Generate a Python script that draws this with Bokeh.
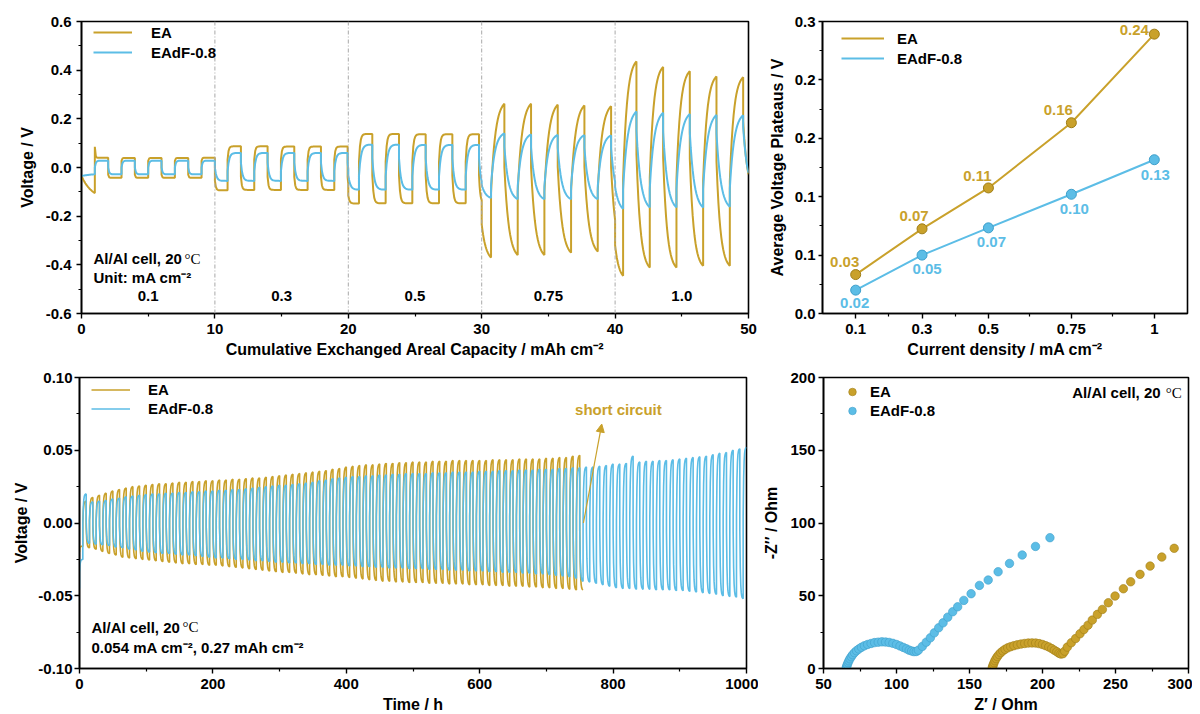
import numpy as np
from bokeh.plotting import figure
from bokeh.models import (FixedTicker, NumeralTickFormatter, CustomJSTickFormatter, Legend, LegendItem,
                          Label, Span, Arrow, NormalHead, ColumnDataSource, Range1d, GlobalInlineStyleSheet)
from bokeh.layouts import column, row
from bokeh.embed import file_html
from bokeh.resources import INLINE
from bokeh.core.properties import value

EA_COLOR = "#C9A12B"
EADF_COLOR = "#5CBDE6"
EA_EDGE = "#A07E16"
EADF_EDGE = "#3E9FCB"
FONT = "Liberation Sans"
SERIF = "Liberation Serif"

# ---------------- (a) rate capability: per half-cycle polarization (V) ----------------
rate_labels = ["0.1", "0.3", "0.5", "0.75", "1.0"]
rate_seg_start = [0, 10, 20, 30, 40]
rate_first_reversal = [1.0, 10.95, 20.8, 30.7, 40.6]
rate_cap_end = 50.0

ea_rate_start = -0.035
ea_rate_first_spike = 0.085
ea_rate_pos = [0.040, 0.039, 0.039, 0.039, 0.040,
               0.087, 0.087, 0.086, 0.086, 0.086,
               0.138, 0.138, 0.137, 0.137, 0.137,
               0.262, 0.262, 0.258, 0.255, 0.252,
               0.436, 0.413, 0.396, 0.374, 0.371]
ea_rate_neg = [-0.105, -0.042, -0.042, -0.042, -0.042,
               -0.094, -0.092, -0.092, -0.092, -0.092,
               -0.148, -0.147, -0.147, -0.147, -0.147,
               -0.370, -0.360, -0.360, -0.350, -0.345,
               -0.445, -0.411, -0.411, -0.404, -0.404]
ea_rate_end = -0.028

eadf_rate_start = -0.035
eadf_rate_pos = [0.028, 0.028, 0.028, 0.028, 0.028,
                 0.060, 0.060, 0.060, 0.060, 0.060,
                 0.094, 0.094, 0.093, 0.093, 0.093,
                 0.140, 0.136, 0.134, 0.133, 0.132,
                 0.230, 0.225, 0.220, 0.216, 0.215]
eadf_rate_neg = [-0.028, -0.028, -0.028, -0.028, -0.028,
                 -0.055, -0.055, -0.055, -0.055, -0.055,
                 -0.091, -0.091, -0.091, -0.091, -0.091,
                 -0.125, -0.130, -0.130, -0.130, -0.130,
                 -0.170, -0.164, -0.164, -0.164, -0.161]
eadf_rate_end = -0.022

# ---------------- (b) average voltage plateaus ----------------
rate_density = [0.1, 0.3, 0.5, 0.75, 1.0]
ea_plateau = [0.040, 0.087, 0.129, 0.196, 0.287]
eadf_plateau = [0.024, 0.060, 0.088, 0.1225, 0.158]
ea_plateau_text = ["0.03", "0.07", "0.11", "0.16", "0.24"]
eadf_plateau_text = ["0.02", "0.05", "0.07", "0.10", "0.13"]

# ---------------- (c) long-term cycling: per-cycle peak voltages (mV) ----------------
half_cycle_h = 5.0
ea_cyc_start_mV = -20
ea_cyc_up_mV = [15, 17.5, 19, 20.5, 22, 23, 24, 25, 25.5, 26,
                26.5, 27, 27, 27.5, 28, 28, 28.5, 28.5, 29, 29,
                29.5, 29.5, 30, 30, 30.5, 31, 31, 31.5, 32, 32.5,
                33, 33.5, 34, 34.5, 35, 35.5, 36, 37, 37.5, 38.5,
                39, 39.5, 40, 40, 40.5, 41, 41, 41.5, 41.5, 42,
                42, 42, 42.5, 42.5, 42.5, 43, 43, 43, 43, 43,
                43, 43.5, 43.5, 43.5, 43.5, 44, 44, 44, 44, 44.5,
                44.5, 45, 45, 46, 46.5]
ea_cyc_low_mV = [-16, -17, -18, -19.5, -21, -22, -23.5, -24, -24.5, -25,
                 -25.5, -26, -26.5, -27, -27.5, -28, -28, -28.5, -28.5, -29,
                 -29, -29.5, -30, -30.5, -31, -31.5, -32, -32.5, -33, -33.5,
                 -34, -34, -34.5, -35, -35.5, -35.5, -36, -36.5, -37, -37,
                 -37.5, -38, -38.5, -39, -39.5, -40, -40, -40.5, -40.5, -41,
                 -41, -41, -41.5, -41.5, -41.5, -42, -42, -42, -42.5, -42.5,
                 -42.5, -43, -43, -43, -43.5, -43.5, -43.5, -44, -44, -44.5,
                 -44.5, -45, -45, -45.5, -46, -46]
eadf_cyc_start_mV = -45
eadf_cyc_up_mV = [20, 14.5, 15, 15.5, 16.5, 17, 18, 18.5, 19, 19.5,
                  20, 20, 20.5, 20.5, 21, 21, 21.5, 21.5, 22, 22,
                  22.5, 22.5, 23, 23, 23.5, 24, 24.5, 25, 25.5, 26,
                  26, 26.5, 27, 27.5, 28, 29, 29.5, 30.5, 31, 31.5,
                  32, 32, 32.5, 32.5, 33, 33, 33.5, 33.5, 34, 34,
                  34, 34, 34.5, 34.5, 34.5, 35, 35, 35, 35, 35.5,
                  35.5, 35.5, 36, 36, 36, 36.5, 36.5, 36.5, 37, 37,
                  37, 37.5, 37.5, 38, 38, 38.5, 38.5, 39, 39.5, 40.5,
                  40.5, 41, 46, 42, 42.5, 42.5, 43, 43, 43.5, 44,
                  44.5, 45, 45.5, 46, 47, 48, 48.5, 50, 51, 52]
eadf_cyc_low_mV = [-25, -14, -14.5, -15, -15.5, -16.5, -17, -18, -18.5, -19.5,
                   -20, -20.5, -21, -21, -21.5, -22, -22, -22.5, -23, -23.5,
                   -24, -24, -24.5, -25, -25, -25.5, -26, -26, -26.5, -27,
                   -27, -27.5, -27.5, -28, -28, -28.5, -28.5, -29, -29, -29,
                   -29.5, -29.5, -30, -30, -30.5, -30.5, -31, -31, -31, -31.5,
                   -31.5, -31.5, -32, -32, -32, -32.5, -32.5, -32.5, -33, -33,
                   -33, -33.5, -33.5, -34, -34, -34, -34.5, -34.5, -35, -35,
                   -35.5, -36, -36.5, -37, -38, -40, -40.5, -41.5, -42.5, -43.5,
                   -44.5, -45, -45, -45.5, -45.5, -45.5, -46, -46, -46, -46.5,
                   -46.5, -47, -47.5, -48, -48.5, -49, -50, -50.5, -51, -52]

# ---------------- (d) EIS Nyquist (Ohm) ----------------
ea_zre = [165.6, 165.9, 166.3, 166.8, 167.4, 168.2, 169.1, 170.2, 171.4, 172.8, 174.4, 176.2,
          178.2, 180.4, 182.8, 185.3, 187.8, 190.3, 192.8, 195.3, 197.7, 200.0, 202.2, 204.3,
          206.3, 208.1, 209.8, 211.3, 212.6, 214.0, 215.2, 217.0, 219.7, 222.7, 225.7, 228.4,
          231.2, 234.1, 237.6, 241.0, 245.1, 249.7, 255.4, 260.4, 266.8, 273.7, 281.7, 290.2]
ea_zim = [0.5, 1.5, 2.7, 4.0, 5.4, 6.8, 8.2, 9.6, 10.9, 12.1, 13.2, 14.2,
          15.0, 15.7, 16.3, 16.8, 17.2, 17.5, 17.6, 17.5, 17.1, 16.5, 15.7, 14.8,
          13.7, 12.6, 11.5, 10.5, 9.9, 10.2, 11.9, 14.7, 17.7, 20.6, 23.9, 26.8,
          29.8, 33.3, 37.2, 40.6, 45.2, 49.8, 54.8, 59.6, 64.7, 70.4, 76.6, 82.6]
eadf_zre = [65.6, 65.9, 66.3, 66.8, 67.4, 68.1, 69.0, 70.0, 71.2, 72.6, 74.2, 76.0,
            78.0, 80.2, 82.6, 85.0, 87.5, 90.0, 92.5, 95.0, 97.5, 100.0, 102.4, 104.7,
            106.8, 108.7, 110.4, 112.0, 113.6, 115.0, 117.7, 120.4, 123.2, 125.9, 128.9, 131.9,
            135.1, 138.5, 141.9, 146.1, 151.1, 156.8, 162.8, 169.6, 177.4, 186.1, 195.2, 205.1]
eadf_zim = [0.5, 1.5, 2.7, 4.0, 5.3, 6.7, 8.1, 9.5, 10.9, 12.2, 13.4, 14.6,
            15.6, 16.5, 17.2, 17.8, 18.1, 18.3, 18.2, 17.9, 17.3, 16.5, 15.5, 14.5,
            13.5, 12.6, 12.0, 11.6, 11.7, 12.6, 15.2, 18.1, 21.1, 24.5, 28.0, 31.4,
            35.3, 39.0, 42.4, 46.8, 51.4, 57.1, 60.8, 66.5, 72.2, 78.0, 83.9, 89.9]


# ---------------- waveform drawing helpers ----------------
def half(xs, ys, t0, t1, v0, target, jump, tau, T=None, n=14, vj=None):
    """One polarity half: step at reversal, then relaxation toward the read peak value."""
    if T is None:
        T = t1 - t0
    if vj is None:
        vj = v0 + jump * (target - v0)
    xs.append(t0)
    ys.append(vj)
    norm = 1.0 - np.exp(-T / tau)
    for i in range(1, n + 1):
        t = t0 + (t1 - t0) * i / n
        f = min(1.0, (1.0 - np.exp(-(t - t0) / tau)) / norm)
        xs.append(t)
        ys.append(vj + (target - vj) * f)
    return ys[-1]


def build_rate(v_start, pos, neg, v_end, shape, spike=None):
    halves = []
    t_prev = 0.0
    for k in range(5):
        r0 = rate_first_reversal[k]
        halves.append((t_prev, r0, neg[5 * k], k))
        for j in range(5):
            halves.append((r0 + 2 * j, r0 + 2 * j + 1, pos[5 * k + j], k))
            if j < 4:
                halves.append((r0 + 2 * j + 1, r0 + 2 * j + 2, neg[5 * k + j + 1], k))
        t_prev = r0 + 9
    halves.append((t_prev, rate_cap_end, v_end, 4))
    xs, ys = [0.0], [v_start]
    v = v_start
    for idx, (t0, t1, target, k) in enumerate(halves):
        s = rate_seg_start[k]
        if idx == 0:
            v = half(xs, ys, t0, t1, v, target, 0.0, 0.8)
            continue
        if t0 < s < t1:
            jmp, tau = shape[k - 1]
            v = half(xs, ys, t0, s, v, neg[5 * (k - 1) + 4], jmp, tau, T=1.0, n=5)
            t0 = s
        jmp, tau = shape[k]
        vj = spike if (idx == 1 and spike is not None) else None
        v = half(xs, ys, t0, t1, v, target, jmp, tau, vj=vj)
    return xs, ys


def build_cycles(v_start, up, low, jump, tau):
    xs, ys = [0.0], [v_start]
    v = v_start
    for k in range(len(up)):
        t0 = 2 * k * half_cycle_h
        v = half(xs, ys, t0, t0 + half_cycle_h, v, low[k] / 1000.0, jump, tau, n=7)
        v = half(xs, ys, t0 + half_cycle_h, t0 + 2 * half_cycle_h, v, up[k] / 1000.0, jump, tau, n=7)
    if len(low) > len(up):
        t0 = 2 * len(up) * half_cycle_h
        half(xs, ys, t0, t0 + half_cycle_h, v, low[-1] / 1000.0, jump, tau, n=7)
    return xs, ys


def style(p, xticks, xminor, yticks, yminor, xlabel, ylabel, xfmt, yfmt,
          ylab_standoff, ytick_out, ylabel_standoff):
    p.xaxis.ticker = FixedTicker(ticks=xticks, minor_ticks=xminor)
    p.yaxis.ticker = FixedTicker(ticks=yticks, minor_ticks=yminor)
    if xfmt is not None:
        p.xaxis.formatter = xfmt
    if yfmt is not None:
        p.yaxis.formatter = yfmt
    p.xaxis.axis_label = xlabel
    p.yaxis.axis_label = ylabel
    for ax in (p.xaxis[0], p.yaxis[0]):
        ax.axis_line_width = 1.6
        ax.axis_line_color = "black"
        ax.major_tick_line_width = 1.4
        ax.minor_tick_line_width = 1.2
        ax.major_tick_in = 0
        ax.minor_tick_in = 0
        ax.minor_tick_out = 3
        ax.major_label_text_font = FONT
        ax.major_label_text_font_style = "bold"
        ax.major_label_text_font_size = "15px"
        ax.major_label_text_color = "black"
        ax.axis_label_text_font = FONT
        ax.axis_label_text_font_style = "bold"
        ax.axis_label_text_font_size = "16px"
        ax.axis_label_text_color = "black"
    p.xaxis.major_tick_out = 5
    p.xaxis.major_label_standoff = 5
    p.xaxis.axis_label_standoff = 4
    p.yaxis.major_tick_out = ytick_out
    p.yaxis.major_label_standoff = ylab_standoff
    p.yaxis.axis_label_standoff = ylabel_standoff
    p.grid.visible = False
    p.outline_line_color = "black"
    p.outline_line_width = 1.6
    p.background_fill_color = "white"
    p.border_fill_color = "white"


def add_legend(p, items, x_off, top_off, row_h, frame_h, glyph_w, standoff):
    leg = Legend(items=items, location=(x_off, frame_h - top_off - 2 * row_h),
                 padding=0, margin=0, spacing=0, label_height=row_h, glyph_height=row_h,
                 glyph_width=glyph_w, label_standoff=standoff,
                 border_line_alpha=0, background_fill_alpha=0,
                 label_text_font=FONT, label_text_font_style="bold",
                 label_text_font_size="15px", label_text_color="black")
    p.add_layout(leg)


def annot(p, x, y, text, align="left", x_offset=0, font=FONT, style_="bold", color="black", size="15px"):
    p.add_layout(Label(x=x, y=y, text=text, text_align=align, text_baseline="middle",
                       x_offset=x_offset, text_font=font, text_font_style=style_,
                       text_font_size=size, text_color=color))


def cell_label(p, x, y, align):
    # "Al/Al cell, 20" in bold sans, "°C" in serif
    if align == "left":
        annot(p, x, y, "Al/Al cell, 20")
        annot(p, x, y, "°C", x_offset=91, font=SERIF, style_="normal")
    else:
        annot(p, x, y, "°C", align="right", font=SERIF, style_="normal")
        annot(p, x, y, "Al/Al cell, 20", align="right", x_offset=-21)


# ================= (a) =================
p1 = figure(width=758, height=365, x_range=Range1d(0, 50), y_range=Range1d(-0.6, 0.6),
            min_border_left=81, min_border_right=10, min_border_top=21, min_border_bottom=52,
            output_backend="svg", toolbar_location=None)
style(p1, [0, 10, 20, 30, 40, 50], [5, 15, 25, 35, 45],
      [-0.6, -0.4, -0.2, 0.0, 0.2, 0.4, 0.6], [-0.5, -0.3, -0.1, 0.1, 0.3, 0.5],
      "Cumulative Exchanged Areal Capacity / mAh cm\u207b\u00b2", "Voltage / V",
      None, NumeralTickFormatter(format="0.0"), 5, 5, 7)
for xs_ in rate_seg_start[1:]:
    p1.add_layout(Span(location=xs_, dimension="height", line_color="#A8A8A8",
                       line_width=1, line_dash="4 2 1 2"))
EA_SHAPE = [(0.85, 0.04), (0.7, 0.07), (0.6, 0.09), (0.42, 0.33), (0.45, 0.3)]
EADF_SHAPE = [(0.5, 0.07), (0.35, 0.12), (0.3, 0.15), (0.2, 0.3), (0.2, 0.33)]
xa, ya = build_rate(ea_rate_start, ea_rate_pos, ea_rate_neg, ea_rate_end, EA_SHAPE, spike=ea_rate_first_spike)
xb, yb = build_rate(eadf_rate_start, eadf_rate_pos, eadf_rate_neg, eadf_rate_end, EADF_SHAPE)
r1a = p1.line(xa, ya, line_color=EA_COLOR, line_width=2)
r1b = p1.line(xb, yb, line_color=EADF_COLOR, line_width=2)
add_legend(p1, [LegendItem(label="EA", renderers=[r1a]), LegendItem(label="EAdF-0.8", renderers=[r1b])],
           12, 1, 20, 292, 39, 19)
cell_label(p1, 0.9, -0.375, "left")
annot(p1, 0.9, -0.453, "Unit: mA cm\u207b\u00b2")
for s_, lab in zip(rate_seg_start, rate_labels):
    annot(p1, s_ + 5, -0.530, lab, align="center")

# ================= (b) =================
p2 = figure(width=434, height=365, x_range=Range1d(0, 1.1), y_range=Range1d(0, 0.3),
            min_border_left=64, min_border_right=5, min_border_top=21, min_border_bottom=52,
            output_backend="svg", toolbar_location=None)
style(p2, rate_density, [0.2, 0.4, 0.625, 0.875],
      [0.0, 0.06, 0.12, 0.18, 0.24, 0.30], [0.03, 0.09, 0.15, 0.21, 0.27],
      "Current density / mA cm\u207b\u00b2", "Average Voltage Plateaus / V",
      CustomJSTickFormatter(code="return String(Math.round(tick*100)/100);"),
      CustomJSTickFormatter(code="return (Math.round(tick*10)/10).toFixed(1);"), 3, 4, 6)
r2a = p2.line(rate_density, ea_plateau, line_color=EA_COLOR, line_width=2)
p2.scatter(rate_density, ea_plateau, size=10, fill_color=EA_COLOR, line_color=EA_EDGE, line_width=1)
r2b = p2.line(rate_density, eadf_plateau, line_color=EADF_COLOR, line_width=2)
p2.scatter(rate_density, eadf_plateau, size=10, fill_color=EADF_COLOR, line_color=EADF_EDGE, line_width=1)
ea_dx = [-11, -8, -11, -13, -20]
ea_dy = [-13, -13, -12, -13, -4]
eadf_dx = [-1, 5, 3, 3, 1]
eadf_dy = [13, 14, 14, 15, 15]
src_a = ColumnDataSource(dict(x=rate_density, y=ea_plateau, t=ea_plateau_text, dx=ea_dx, dy=ea_dy))
src_b = ColumnDataSource(dict(x=rate_density, y=eadf_plateau, t=eadf_plateau_text, dx=eadf_dx, dy=eadf_dy))
for src, col in ((src_a, EA_COLOR), (src_b, EADF_COLOR)):
    p2.text(x="x", y="y", text="t", source=src, x_offset="dx", y_offset="dy",
            text_align="center", text_baseline="middle", text_color=col,
            text_font=value(FONT), text_font_style="bold", text_font_size="15px")
add_legend(p2, [LegendItem(label="EA", renderers=[r2a]), LegendItem(label="EAdF-0.8", renderers=[r2b])],
           19, 7, 20, 292, 43, 13)

# ================= (c) =================
p3 = figure(width=758, height=353, x_range=Range1d(0, 1000), y_range=Range1d(-0.1, 0.1),
            min_border_left=79, min_border_right=12, min_border_top=12, min_border_bottom=50,
            output_backend="svg", toolbar_location=None)
style(p3, [0, 200, 400, 600, 800, 1000], [100, 300, 500, 700, 900],
      [-0.10, -0.05, 0.0, 0.05, 0.10], [-0.075, -0.025, 0.025, 0.075],
      "Time / h", "Voltage / V", None, NumeralTickFormatter(format="0.00"), 2, 5, 5)
xc, yc = build_cycles(ea_cyc_start_mV / 1000.0, ea_cyc_up_mV, ea_cyc_low_mV, 0.55, 0.9)
xd, yd = build_cycles(eadf_cyc_start_mV / 1000.0, eadf_cyc_up_mV, eadf_cyc_low_mV, 0.55, 0.9)
r3a = p3.line(xc, yc, line_color=EA_COLOR, line_width=1.6)
r3b = p3.line(xd, yd, line_color=EADF_COLOR, line_width=1.6)
add_legend(p3, [LegendItem(label="EA", renderers=[r3a]), LegendItem(label="EAdF-0.8", renderers=[r3b])],
           12, 3, 19, 291, 39, 18)
p3.add_layout(Arrow(x_start=755.5, y_start=0.0, x_end=783, y_end=0.068, line_color=EA_COLOR,
                    line_width=1.2, end=NormalHead(size=8, fill_color=EA_COLOR, line_color=EA_COLOR)))
annot(p3, 808, 0.078, "short circuit", align="center", color=EA_COLOR)
cell_label(p3, 18, -0.0716, "left")
annot(p3, 18, -0.0853, "0.054 mA cm\u207b\u00b2, 0.27 mAh cm\u207b\u00b2")

# ================= (d) =================
p4 = figure(width=434, height=353, x_range=Range1d(50, 300), y_range=Range1d(0, 200),
            min_border_left=65, min_border_right=4, min_border_top=12, min_border_bottom=50,
            output_backend="svg", toolbar_location=None)
style(p4, [50, 100, 150, 200, 250, 300], [75, 125, 175, 225, 275],
      [0, 50, 100, 150, 200], [25, 75, 125, 175],
      "Z\u2032 / Ohm", "-Z\u2032\u2032 / Ohm", None, None, 3, 5, 7)
r4a = p4.scatter(ea_zre, ea_zim, size=8.5, fill_color=EA_COLOR, line_color=EA_EDGE, line_width=0.6)
r4b = p4.scatter(eadf_zre, eadf_zim, size=8.5, fill_color=EADF_COLOR, line_color=EADF_EDGE, line_width=0.6)
add_legend(p4, [LegendItem(label="EA", renderers=[r4a]), LegendItem(label="EAdF-0.8", renderers=[r4b])],
           19, 5, 19, 291, 20, 8)
cell_label(p4, 295.3, 189.6, "right")

layout = column(row(p1, p2), row(p3, p4),
                stylesheets=[GlobalInlineStyleSheet(css="html, body { overflow: hidden; }")])
open("out.html", "w").write(file_html(layout, INLINE))
